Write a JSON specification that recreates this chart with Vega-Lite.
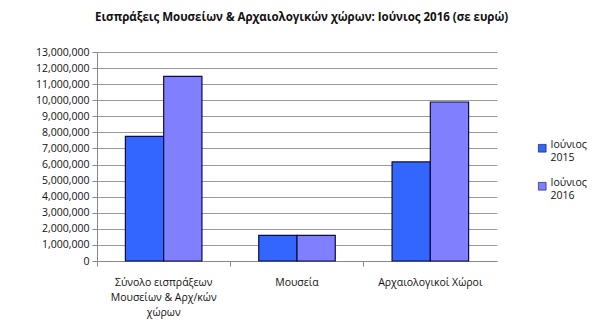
{
  "$schema": "https://vega.github.io/schema/vega-lite/v6.json",
  "autosize": "none",
  "width": 400,
  "height": 209,
  "padding": {"left": 97, "top": 52, "right": 116, "bottom": 66},
  "background": "white",
  "title": {
    "text": "Εισπράξεις Μουσείων & Αρχαιολογικών χώρων: Ιούνιος 2016 (σε ευρώ)",
    "font": "Open Sans",
    "fontSize": 11.5,
    "fontWeight": "bold",
    "color": "#111111",
    "anchor": "start",
    "frame": "group",
    "dx": -2,
    "offset": 24
  },
  "data": {
    "values": [
      {"category": "Σύνολο εισπράξεων|Μουσείων & Αρχ/κών|χώρων", "year": "Ιούνιος 2015", "value": 7750000},
      {"category": "Σύνολο εισπράξεων|Μουσείων & Αρχ/κών|χώρων", "year": "Ιούνιος 2016", "value": 11480000},
      {"category": "Μουσεία", "year": "Ιούνιος 2015", "value": 1600000},
      {"category": "Μουσεία", "year": "Ιούνιος 2016", "value": 1600000},
      {"category": "Αρχαιολογικοί Χώροι", "year": "Ιούνιος 2015", "value": 6160000},
      {"category": "Αρχαιολογικοί Χώροι", "year": "Ιούνιος 2016", "value": 9890000}
    ]
  },
  "mark": {"type": "bar", "stroke": "#0d0d40", "strokeWidth": 1.2},
  "encoding": {
    "x": {
      "field": "category",
      "type": "nominal",
      "sort": null,
      "scale": {"paddingInner": 0, "paddingOuter": 0},
      "axis": {
        "title": null,
        "labelAngle": 0,
        "labelExpr": "split(datum.label, '|')",
        "labelFont": "Open Sans",
        "labelFontSize": 10.5,
        "labelColor": "#111111",
        "labelLineHeight": 15,
        "labelPadding": 11,
        "labelLimit": 200,
        "bandPosition": 0,
        "tickColor": "#888888",
        "tickSize": 5,
        "domainColor": "#888888",
        "grid": false
      }
    },
    "xOffset": {
      "field": "year",
      "type": "nominal",
      "scale": {"paddingInner": 0, "paddingOuter": 0.742}
    },
    "y": {
      "field": "value",
      "type": "quantitative",
      "scale": {"domain": [0, 13000000], "nice": false},
      "axis": {
        "title": null,
        "values": [0,1000000,2000000,3000000,4000000,5000000,6000000,7000000,8000000,9000000,10000000,11000000,12000000,13000000],
        "format": ",d",
        "labelFont": "Open Sans",
        "labelFontSize": 10.5,
        "labelColor": "#111111",
        "labelPadding": 3,
        "tickColor": "#888888",
        "tickSize": 5,
        "domainColor": "#888888",
        "gridColor": "#999999",
        "gridWidth": 1
      }
    },
    "color": {
      "field": "year",
      "type": "nominal",
      "scale": {"domain": ["Ιούνιος 2015", "Ιούνιος 2016"], "range": ["#3366ff", "#8080ff"]},
      "legend": {
        "title": null,
        "orient": "none",
        "legendX": 440,
        "legendY": 91,
        "symbolType": "square",
        "symbolSize": 60,
        "symbolStrokeColor": "#0d0d40",
        "symbolStrokeWidth": 0.6,
        "labelExpr": "split(datum.label, ' ')",
        "labelFont": "Open Sans",
        "labelFontSize": 10.5,
        "labelColor": "#111111",
        "labelLineHeight": 14,
        "labelBaseline": "alphabetic",
        "labelOffset": 3,
        "rowPadding": 14
      }
    }
  },
  "config": {"view": {"stroke": null}}
}
